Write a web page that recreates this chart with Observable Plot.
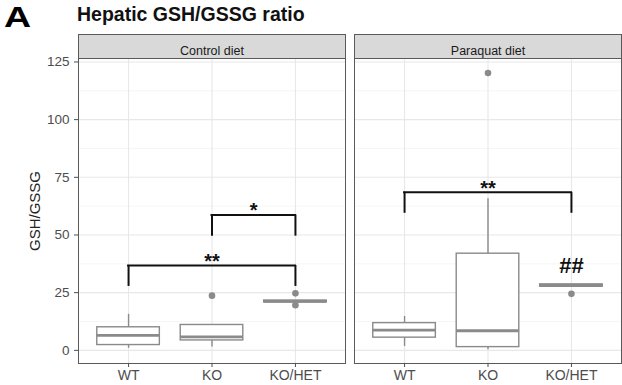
<!DOCTYPE html>
<html><head><meta charset="utf-8">
<script src="https://cdn.jsdelivr.net/npm/d3@7"></script>
<script src="https://cdn.jsdelivr.net/npm/@observablehq/plot@0.6"></script>
<style>
body{margin:0;background:#fff;font-family:"Liberation Sans",Arial,sans-serif;}
#wrap{position:relative;width:622px;height:385px;overflow:hidden;background:#fff}
#panel{position:absolute;left:4px;top:1.5px;font-size:30px;line-height:30px;font-weight:bold;color:#000;transform:scaleX(1.25);transform-origin:left center}
#title{position:absolute;left:77px;top:4.5px;font-size:19.5px;line-height:19.5px;font-weight:bold;color:#111}
#chart{position:absolute;left:0;top:34px}
</style></head><body>
<div id="wrap"><div id="panel">A</div><div id="title">Hepatic GSH/GSSG ratio</div><div id="chart"></div></div>
<script>
const diets = ["Control diet", "Paraquat diet"];
const groups = ["WT", "KO", "KO/HET"];
const yTicks = [0, 25, 50, 75, 100, 125];
const yMinor = [12.5, 37.5, 62.5, 87.5, 112.5];
const yLabel = "GSH/GSSG";

// box statistics
const boxDiet  = ["Control diet","Control diet","Control diet","Paraquat diet","Paraquat diet","Paraquat diet"];
const boxGroup = ["WT","KO","KO/HET","WT","KO","KO/HET"];
const boxLo    = [0.9, 1.4, 21.0, 1.7, 0.3, 28.0];
const boxQ1    = [2.3, 4.3, 20.8, 5.5, 1.4, 27.6];
const boxMed   = [6.5, 5.8, 21.2, 8.8, 8.5, 28.1];
const boxQ3    = [10.0, 11.0, 21.6, 11.8, 41.9, 28.6];
const boxHi    = [15.6, 11.0, 21.6, 14.7, 65.7, 28.6];

// outliers
const outDiet  = ["Control diet","Control diet","Control diet","Paraquat diet","Paraquat diet"];
const outGroup = ["KO","KO/HET","KO/HET","KO","KO/HET"];
const outValue = [23.7, 24.7, 19.6, 120.2, 24.5];

// significance brackets
const brDiet   = ["Control diet","Control diet","Paraquat diet"];
const brFrom   = ["KO","WT","WT"];
const brTo     = ["KO/HET","KO/HET","KO/HET"];
const brTop    = [58.7, 36.8, 68.5];
const brBottom = [49.5, 27.7, 59.4];
const brLabel  = ["*","**","**"];

// extra annotation
const anDiet  = ["Paraquat diet"];
const anGroup = ["KO/HET"];
const anValue = [36.7];
const anLabel = ["##"];

const pos = g => groups.indexOf(g) + 1;
const boxes = boxDiet.map((d, i) => ({diet: d, x: pos(boxGroup[i]), lo: boxLo[i], q1: boxQ1[i], med: boxMed[i], q3: boxQ3[i], hi: boxHi[i]}));
const outliers = outDiet.map((d, i) => ({diet: d, x: pos(outGroup[i]), y: outValue[i]}));
const brackets = brDiet.map((d, i) => ({diet: d, x1: pos(brFrom[i]), x2: pos(brTo[i]), top: brTop[i], bottom: brBottom[i], label: brLabel[i]}));
const annots = anDiet.map((d, i) => ({diet: d, x: pos(anGroup[i]), y: anValue[i], label: anLabel[i]}));

const hw = 0.375; // ggplot default box width 0.75
const boxCol = "#8a8a8a";
const border = "#5a5a5a";

const chart = Plot.plot({
  width: 622,
  height: 351,
  marginTop: 24,
  marginBottom: 22,
  marginLeft: 77,
  marginRight: 1,
  style: {fontFamily: "'Liberation Sans', Arial, sans-serif", background: "white"},
  x: {domain: [0.4, 3.6]},
  y: {domain: [-5.7, 126.5]},
  fx: {domain: diets, paddingInner: 0.033, paddingOuter: 0, axis: null, label: null},
  marks: [
    Plot.frame({fill: "#d9d9d9", stroke: border, strokeWidth: 1, insetTop: -24}),
    Plot.frame({fill: "white"}),
    Plot.ruleY(yMinor, {stroke: "#f2f2f2", strokeWidth: 0.7}),
    Plot.ruleY(yTicks, {stroke: "#e8e8e8", strokeWidth: 1.1}),
    Plot.ruleX([1, 2, 3], {stroke: "#e8e8e8", strokeWidth: 1.1}),
    Plot.ruleX(boxes, {fx: "diet", x: "x", y1: "lo", y2: "hi", stroke: boxCol, strokeWidth: 1.4}),
    Plot.rect(boxes, {fx: "diet", x1: d => d.x - hw, x2: d => d.x + hw, y1: "q1", y2: "q3", fill: "white", stroke: boxCol, strokeWidth: 1.4}),
    Plot.ruleY(boxes, {fx: "diet", x1: d => d.x - hw, x2: d => d.x + hw, y: "med", stroke: boxCol, strokeWidth: 2.8}),
    Plot.dot(outliers, {fx: "diet", x: "x", y: "y", r: 3.3, fill: boxCol, stroke: null}),
    Plot.ruleY(brackets, {fx: "diet", x1: "x1", x2: "x2", y: "top", stroke: "#111", strokeWidth: 2, strokeLinecap: "square"}),
    Plot.ruleX(brackets, {fx: "diet", x: "x1", y1: "bottom", y2: "top", stroke: "#111", strokeWidth: 2}),
    Plot.ruleX(brackets, {fx: "diet", x: "x2", y1: "bottom", y2: "top", stroke: "#111", strokeWidth: 2}),
    Plot.text(brackets, {fx: "diet", x: d => (d.x1 + d.x2) / 2, y: "top", text: "label", fontSize: 20, fontWeight: "bold", fill: "#111", dy: -4}),
    Plot.text(annots, {fx: "diet", x: "x", y: "y", text: "label", fontSize: 22, fontWeight: "bold", fill: "#111"}),
    Plot.text(diets, {fx: d => d, text: d => d, frameAnchor: "top", dy: -12, fontSize: 12.5, fill: "#1a1a1a"}),
    Plot.frame({stroke: border, strokeWidth: 1}),
    Plot.axisY(yTicks, {tickSize: 4, tickPadding: 5, fontSize: 13.5, color: "#4d4d4d", label: null}),
    Plot.axisY({ticks: [], tickSize: 0, fontSize: 15, color: "#222", label: yLabel, labelAnchor: "center", labelOffset: 49, labelArrow: "none"}),
    Plot.axisX([1, 2, 3], {tickFormat: i => groups[i - 1], tickSize: 4, tickPadding: 3, fontSize: 14, color: "#4d4d4d", label: null})
  ]
});
document.getElementById("chart").appendChild(chart);
</script>
</body></html>
